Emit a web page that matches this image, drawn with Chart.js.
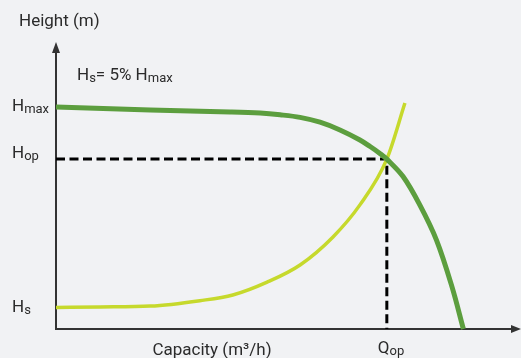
<!DOCTYPE html>
<html>
<head>
<meta charset="utf-8">
<script src="https://cdn.jsdelivr.net/npm/chart.js@4.4.1/dist/chart.umd.min.js"></script>
<style>
    html, body { margin: 0; padding: 0; background: #f1f2f4; }
    #wrap { width: 521px; height: 358px; position: relative; }
</style>
</head>
<body>
<div id="wrap"><canvas id="pump-chart"></canvas></div>
<script>
// Pump curve (capacity vs head)
const pumpCapacity = [0, 20.3, 37.5, 44.0, 48.3, 52.6, 56.9, 61.2, 65.5, 67.7, 69.8, 71.3, 74.8, 78.4, 82.0, 85.3, 87.8];
const pumpHead = [77.6, 76.6, 75.9, 75.5, 74.9, 74.0, 72.3, 69.6, 66.1, 63.8, 61.4, 59.4, 53.3, 43.4, 31.1, 15.0, 0];

// System curve
const systemCapacity = [0, 9.5, 20.3, 31.0, 38.1, 45.5, 52.6, 59.7, 65.5, 71.3, 75.2];
const systemHead = [7.5, 7.7, 8.0, 9.9, 11.9, 16.4, 22.4, 32.2, 43.4, 59.4, 79.0];

// Operating point
const opCapacity = 71.3;
const opHead = 59.4;

const toPoints = (xs, ys) => xs.map((x, i) => ({ x: x, y: ys[i] }));

const TEXT = '#2b2b2b';
const FONT = 'Roboto, "DejaVu Sans", sans-serif';

// draws text pieces, some of them as subscripts; returns end x
function drawSub(ctx, parts, x, y) {
    ctx.textBaseline = 'alphabetic';
    ctx.textAlign = 'left';
    parts.forEach(p => {
        if (p.sub) {
            ctx.font = '13px ' + FONT;
            ctx.fillText(p.text, x, y + 2);
        } else {
            ctx.font = '17px ' + FONT;
            ctx.fillText(p.text, x, y);
        }
        x += ctx.measureText(p.text).width;
    });
    return x;
}

const axesPlugin = {
    id: 'axesPlugin',
    beforeDatasetsDraw(chart) {
        const { ctx, chartArea } = chart;
        const left = chartArea.left, bottom = chartArea.bottom;
        ctx.save();
        ctx.strokeStyle = '#333';
        ctx.fillStyle = '#333';
        ctx.lineWidth = 2;
        ctx.beginPath();
        ctx.moveTo(left, bottom);
        ctx.lineTo(left, chartArea.top + 8);
        ctx.moveTo(left - 1, bottom);
        ctx.lineTo(chartArea.right - 8, bottom);
        ctx.stroke();
        // arrow heads
        ctx.beginPath();
        ctx.moveTo(left, chartArea.top - 1);
        ctx.lineTo(left - 4, chartArea.top + 10);
        ctx.lineTo(left + 4, chartArea.top + 10);
        ctx.closePath();
        ctx.fill();
        ctx.beginPath();
        ctx.moveTo(chartArea.right + 1, bottom);
        ctx.lineTo(chartArea.right - 9, bottom - 4);
        ctx.lineTo(chartArea.right - 9, bottom + 4);
        ctx.closePath();
        ctx.fill();
        ctx.restore();
    },
    afterDraw(chart) {
        const { ctx, scales } = chart;
        const y = scales.y, x = scales.x;
        ctx.save();
        ctx.fillStyle = TEXT;
        ctx.font = '17px ' + FONT;
        ctx.fillText('Height (m)', 19, 26);
        drawSub(ctx, [{ text: 'H' }, { text: 's', sub: true }, { text: '= 5% H' }, { text: 'max', sub: true }], 77, 80);

        drawSub(ctx, [{ text: 'H' }, { text: 'max', sub: true }], 12, y.getPixelForValue(pumpHead[0]) + 4);
        drawSub(ctx, [{ text: 'H' }, { text: 'op', sub: true }], 12, y.getPixelForValue(opHead) - 1);
        drawSub(ctx, [{ text: 'H' }, { text: 's', sub: true }], 12, y.getPixelForValue(systemHead[0]) + 4);

        ctx.font = '17px ' + FONT;
        ctx.textAlign = 'center';
        ctx.fillText('Capacity (m³/h)', 212, 355);
        const qx = x.getPixelForValue(opCapacity);
        drawSub(ctx, [{ text: 'Q' }, { text: 'op', sub: true }], qx - 9, 353);
        ctx.restore();
    }
};

const ctx = document.getElementById('pump-chart').getContext('2d');
new Chart(ctx, {
    type: 'scatter',
    data: {
        datasets: [
            {
                data: [{ x: 0, y: opHead }, { x: opCapacity, y: opHead }, { x: opCapacity, y: 0 }],
                borderColor: '#000',
                borderWidth: 3,
                borderDash: [9, 4.5],
                showLine: true,
                pointRadius: 0,
                tension: 0,
                order: 3
            },
            {
                data: toPoints(systemCapacity, systemHead),
                borderColor: '#c6d92c',
                borderWidth: 3.5,
                showLine: true,
                pointRadius: 0,
                cubicInterpolationMode: 'monotone',
                order: 2
            },
            {
                data: toPoints(pumpCapacity, pumpHead),
                borderColor: '#5c9e3e',
                borderWidth: 5,
                showLine: true,
                pointRadius: 0,
                tension: 0.35,
                order: 1
            }
        ]
    },
    options: {
        responsive: true,
        maintainAspectRatio: false,
        animation: false,
        clip: false,
        layout: { padding: { left: 56, right: 1, top: 43, bottom: 29 } },
        plugins: { legend: { display: false }, tooltip: { enabled: false } },
        scales: {
            x: { type: 'linear', min: 0, max: 100, display: false },
            y: { type: 'linear', min: 0, max: 100, display: false }
        }
    },
    plugins: [axesPlugin]
});
</script>
</body>
</html>
